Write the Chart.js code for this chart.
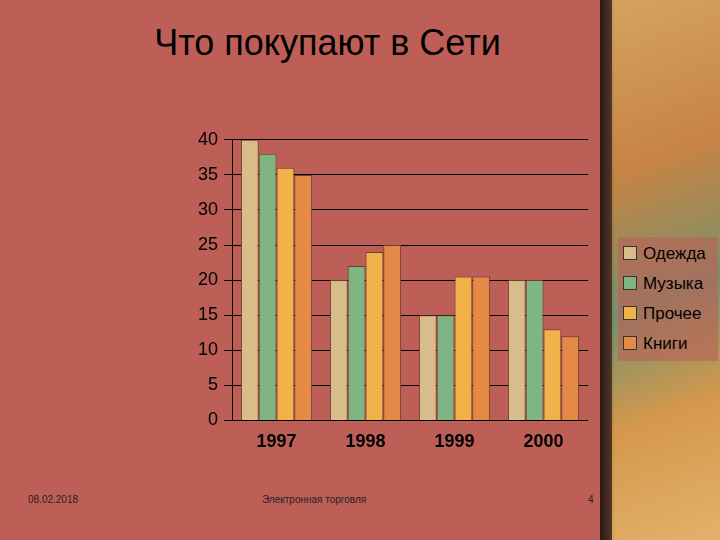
<!DOCTYPE html>
<html><head><meta charset="utf-8">
<script src="https://cdn.jsdelivr.net/npm/chart.js@4"></script>
<style>
body{margin:0;width:720px;height:540px;overflow:hidden;background:#bd5f57;font-family:"Liberation Sans",Arial,sans-serif;position:relative}
#deco{position:absolute;left:612px;top:0;width:108px;height:540px;background:linear-gradient(160deg,#d8b060 0%,#c98a40 30%,#6c9a70 55%,#d9a24a 75%,#e8c070 100%);opacity:.85}
#edge{position:absolute;left:600px;top:0;width:14px;height:540px;background:linear-gradient(90deg,#2a1a14,#5a3a2a)}
h1{position:absolute;left:0;width:655px;top:22px;margin:0;text-align:center;font-weight:normal;font-size:36px;color:#000}
.f{position:absolute;top:494px;font-size:10px;color:#222}
#wrap{position:absolute;left:192px;top:123px;width:396px;height:333px}
#leg{position:absolute;left:618px;top:237px;width:96px;background:rgba(189,95,87,.6);padding:2px 2px}
#leg div{font-size:17px;height:30px;line-height:30px;color:#000}
#leg span{display:inline-block;width:12px;height:12px;border:1px solid #333;margin:0 6px 0 3px;vertical-align:-1px}
</style></head><body>
<div id="edge"></div><div id="deco"></div>
<h1>Что покупают в Сети</h1>
<div class="f" style="left:28px">08.02.2018</div>
<div class="f" style="left:262px">Электронная торговля</div>
<div class="f" style="left:588px">4</div>
<div id="wrap"><canvas id="c"></canvas></div>
<div id="leg"></div>
<script>
const years = ["1997", "1998", "1999", "2000"];
const clothes = [40, 20, 15, 20];
const music = [38, 22, 15, 20];
const other = [36, 24, 20.5, 13];
const books = [35, 25, 20.5, 12];
const names = ["Одежда", "Музыка", "Прочее", "Книги"];
const colors = ["#d8bd8a", "#7fb583", "#f2b24a", "#e48a46"];
const yTicks = [0, 5, 10, 15, 20, 25, 30, 35, 40];

document.getElementById("leg").innerHTML = names.map((n, i) =>
    '<div><span style="background:' + colors[i] + '"></span>' + n + '</div>').join('');

new Chart(document.getElementById("c"), {
    type: 'bar',
    data: {
        labels: years,
        datasets: [clothes, music, other, books].map((d, i) => ({
            label: names[i],
            data: d,
            backgroundColor: colors[i],
            borderColor: "#6a4030",
            borderWidth: 1,
            categoryPercentage: 0.8,
            barPercentage: 1
        }))
    },
    options: {
        responsive: true,
        maintainAspectRatio: false,
        animation: false,
        plugins: {
            legend: { display: false },
            tooltip: { enabled: false }
        },
        scales: {
            x: {
                grid: { display: false },
                border: { color: "#000" },
                ticks: { color: "#000", font: { size: 18, weight: 'bold' } }
            },
            y: {
                min: 0, max: 40,
                afterBuildTicks: a => { a.ticks = yTicks.map(v => ({ value: v })); },
                grid: { color: "#000" },
                border: { color: "#000" },
                ticks: { color: "#000", font: { size: 18 }, padding: 6 }
            }
        }
    }
});
</script>
</body></html>
